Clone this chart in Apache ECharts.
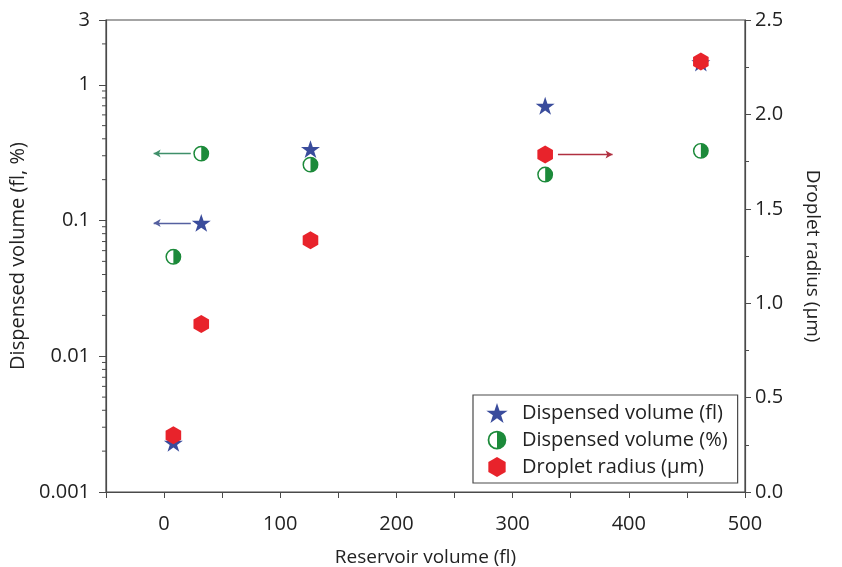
<!DOCTYPE html>
<html lang="en">
<head>
  <meta charset="UTF-8">
  <script type="text/javascript" src="https://cdn.jsdelivr.net/npm/echarts@6/dist/echarts.min.js"></script>
  <title>Reservoir volume</title>
  <style>
    * {margin: 0; padding: 0;}
    html, body {width: 100%; height: 100%; overflow: hidden; background-color: #fff;}
    #chart {width: 842px; height: 567px;}
  </style>
</head>
<body>
  <div id="chart"></div>
</body>
<script>
// values
var reservoirVol = [8, 32, 126, 328, 462]
var dispensedFl = [0.0023, 0.096, 0.336, 0.70, 1.46]
var dispensedPct = [0.054, 0.311, 0.258, 0.218, 0.326]
var dropletRadius = [0.30, 0.89, 1.334, 1.788, 2.28]
var xTickLabels = [0, 100, 200, 300, 400, 500]
// annotation arrows: [x from, x to, y], arrow head at "from"
var arrowPct = [-9, 23, 0.311]
var arrowFl = [-9, 23, 0.096]
var arrowRadius = [386, 339, 1.788]

window.onload = function () {
  drawChart()
}

function pairs (xs, ys) {
  return xs.map(function (x, i) { return [x, ys[i]] })
}

function arrow (a) {
  return [[
    {coord: [a[0], a[2]], symbol: 'arrow'},
    {coord: [a[1], a[2]], symbol: 'none'}
  ]]
}

function drawChart () {
  var axisColor = '#4a4a4a'
  var textColor = '#222'
  var font = 'Open Sans'
  var blue = '#3a4c9c'
  var green = '#1c8a3a'
  var red = '#e8232b'

  var halfCircle = 'image://data:image/svg+xml;charset=utf-8,' + encodeURIComponent(
    "<svg xmlns='http://www.w3.org/2000/svg' width='40' height='40'>" +
    "<circle cx='20' cy='20' r='17' fill='white' stroke='" + green + "' stroke-width='3.5'/>" +
    "<path d='M20 3 A17 17 0 0 1 20 37 Z' fill='" + green + "'/></svg>")
  var star = 'path://M50,0 L61.8,35.1 L98.9,35.1 L68.9,56.8 L80.3,91.9 L50,70.2 L19.7,91.9 L31.1,56.8 L1.1,35.1 L38.2,35.1 Z'
  var hexagon = 'path://M50,0 L93.3,25 L93.3,75 L50,100 L6.7,75 L6.7,25 Z'

  // minor tick positions for the log axis (2..9 in each decade)
  var logMinor = []
  for (var k = -3; k <= 0; k++) {
    for (var m = 2; m <= 9; m++) {
      var v = m * Math.pow(10, k)
      if (v < 3) logMinor.push([-50, v])
    }
  }

  var option = {
    animation: false,
    textStyle: {fontFamily: font},
    grid: {
      left: 106, right: 97, top: 20, bottom: 75,
      outerBoundsMode: 'none',
      show: true, borderColor: axisColor, borderWidth: 1.2
    },
    legend: {
      left: 473,
      top: 395,
      orient: 'vertical',
      data: ['Dispensed volume (fl)', 'Dispensed volume (%)', 'Droplet radius (μm)'],
      backgroundColor: '#fff',
      borderColor: axisColor,
      borderWidth: 1.2,
      borderRadius: 0,
      padding: [8, 10, 6, 4],
      itemWidth: 40,
      itemHeight: 20,
      itemGap: 7,
      textStyle: {fontFamily: font, fontSize: 20, color: textColor}
    },
    xAxis: {
      type: 'value',
      min: -50,
      max: 500,
      interval: 50,
      name: 'Reservoir volume (fl)',
      nameLocation: 'middle',
      nameGap: 56,
      nameTextStyle: {fontSize: 19, color: textColor},
      axisLine: {onZero: false, lineStyle: {color: axisColor, width: 1.2}},
      axisTick: {show: true, inside: false, length: 6, lineStyle: {color: axisColor}},
      axisLabel: {
        fontSize: 20,
        color: textColor,
        margin: 22,
        formatter: function (v) { return xTickLabels.indexOf(v) >= 0 ? String(v) : '' }
      },
      splitLine: {show: false}
    },
    yAxis: [
      {
        type: 'log',
        min: 0.001,
        max: 3,
        name: 'Dispensed volume (fl, %)',
        nameLocation: 'middle',
        nameGap: 76,
        nameTextStyle: {fontSize: 20, color: textColor},
        axisLine: {show: true, onZero: false, lineStyle: {color: axisColor, width: 1.2}},
        axisTick: {show: true, length: 7, lineStyle: {color: axisColor}},
        axisLabel: {fontSize: 20, color: textColor, margin: 16},
        splitLine: {show: false}
      },
      {
        type: 'value',
        position: 'right',
        min: 0,
        max: 2.5,
        interval: 0.5,
        name: 'Droplet radius (μm)',
        nameLocation: 'middle',
        nameGap: 58,
        nameRotate: -90,
        nameTextStyle: {fontSize: 19, color: textColor},
        axisLine: {show: true, onZero: false, lineStyle: {color: axisColor, width: 1.2}},
        axisTick: {show: true, length: 6, lineStyle: {color: axisColor}},
        minorTick: {show: true, splitNumber: 2, length: 4, lineStyle: {color: axisColor}},
        axisLabel: {
          fontSize: 20,
          color: textColor,
          margin: 10,
          formatter: function (v) { return v.toFixed(1) }
        },
        splitLine: {show: false}
      }
    ],
    series: [
      {
        type: 'custom',
        silent: true,
        yAxisIndex: 0,
        data: logMinor,
        renderItem: function (params, api) {
          var p = api.coord([api.value(0), api.value(1)])
          return {
            type: 'line',
            shape: {x1: p[0] - 4, y1: p[1], x2: p[0], y2: p[1]},
            style: {stroke: axisColor, lineWidth: 1}
          }
        }
      },
      {
        name: 'Dispensed volume (%)',
        type: 'scatter',
        yAxisIndex: 0,
        symbol: halfCircle,
        symbolSize: 17,
        itemStyle: {color: green, opacity: 1},
        data: pairs(reservoirVol, dispensedPct),
        markLine: {
          silent: true,
          symbolSize: [6, 7],
          label: {show: false},
          lineStyle: {color: '#3f8f6a', width: 1.3, type: 'solid'},
          data: arrow(arrowPct)
        }
      },
      {
        name: 'Dispensed volume (fl)',
        type: 'scatter',
        yAxisIndex: 0,
        symbol: star,
        symbolKeepAspect: true,
        symbolSize: 19,
        itemStyle: {color: blue, opacity: 1},
        data: pairs(reservoirVol, dispensedFl),
        markLine: {
          silent: true,
          symbolSize: [6, 7],
          label: {show: false},
          lineStyle: {color: '#5560a0', width: 1.3, type: 'solid'},
          data: arrow(arrowFl)
        }
      },
      {
        name: 'Droplet radius (μm)',
        type: 'scatter',
        yAxisIndex: 1,
        symbol: hexagon,
        symbolKeepAspect: true,
        symbolSize: 18,
        itemStyle: {color: red, opacity: 1},
        data: pairs(reservoirVol, dropletRadius),
        markLine: {
          silent: true,
          symbolSize: [6, 7],
          label: {show: false},
          lineStyle: {color: '#b03040', width: 1.3, type: 'solid'},
          data: arrow(arrowRadius)
        }
      }
    ]
  }
  var chart = echarts.init(document.getElementById('chart'))
  chart.setOption(option)
}
</script>
</html>
